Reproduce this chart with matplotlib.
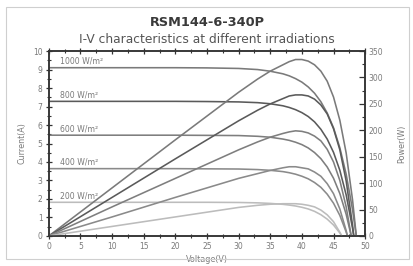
import matplotlib
matplotlib.use("Agg")
import matplotlib.pyplot as plt
from matplotlib.ticker import MultipleLocator
from matplotlib.patches import Rectangle

# Irradiance levels and labels
irradiances = ["1000", "800", "600", "400", "200"]

# Voltage sample points (V) for each curve
v_1000 = [0, 10, 20, 25, 30, 33, 35, 37, 38, 39, 40, 41, 42, 43, 44, 45, 46, 47, 48, 48.6]
v_800 = [0, 10, 20, 25, 30, 33, 35, 37, 38, 39, 40, 41, 42, 43, 44, 45, 46, 47, 48, 48.2]
v_600 = [0, 10, 20, 25, 30, 33, 35, 37, 38, 39, 40, 41, 42, 43, 44, 45, 46, 47, 47.8]
v_400 = [0, 10, 20, 25, 30, 33, 35, 37, 38, 39, 40, 41, 42, 43, 44, 45, 46, 47, 47.2]
v_200 = [0, 10, 20, 25, 30, 33, 35, 37, 38, 39, 40, 41, 42, 43, 44, 45, 46, 46.3]

# Current (A)
i_1000 = [9.10, 9.10, 9.10, 9.09, 9.06, 9.00, 8.91, 8.77, 8.66, 8.51, 8.32, 8.06, 7.72, 7.26, 6.65, 5.85, 4.77, 3.34, 1.43, 0]
i_800 = [7.28, 7.28, 7.28, 7.27, 7.25, 7.21, 7.15, 7.04, 6.95, 6.83, 6.67, 6.46, 6.17, 5.77, 5.24, 4.52, 3.55, 2.22, 0.43, 0]
i_600 = [5.45, 5.45, 5.45, 5.44, 5.43, 5.39, 5.34, 5.24, 5.17, 5.07, 4.94, 4.76, 4.51, 4.18, 3.73, 3.12, 2.29, 1.17, 0]
i_400 = [3.64, 3.64, 3.64, 3.63, 3.62, 3.59, 3.55, 3.48, 3.42, 3.34, 3.23, 3.09, 2.89, 2.63, 2.26, 1.77, 1.11, 0.21, 0]
i_200 = [1.82, 1.82, 1.82, 1.82, 1.81, 1.79, 1.76, 1.71, 1.67, 1.62, 1.55, 1.46, 1.33, 1.15, 0.91, 0.59, 0.16, 0]

# Power (W)
p_1000 = [0, 91, 182, 227, 272, 297, 312, 324, 330, 334, 334, 331, 324, 312, 293, 263, 219, 157, 69, 0]
p_800 = [0, 73, 146, 182, 218, 238, 250, 260, 265, 267, 267, 265, 259, 248, 231, 203, 163, 104, 21, 0]
p_600 = [0, 55, 109, 136, 163, 178, 187, 194, 197, 199, 198, 195, 189, 180, 164, 140, 105, 55, 0]
p_400 = [0, 36, 73, 91, 109, 118, 124, 129, 131, 131, 129, 127, 121, 113, 99, 80, 51, 10, 0]
p_200 = [0, 18, 36, 45, 54, 58, 60, 61, 61, 61, 60, 58, 55, 49, 40, 27, 7, 0]

volts = [v_1000, v_800, v_600, v_400, v_200]
currents = [i_1000, i_800, i_600, i_400, i_200]
powers = [p_1000, p_800, p_600, p_400, p_200]
colors = ["#7a7a7a", "#5a5a5a", "#7e7e7e", "#8a8a8a", "#bcbcbc"]

fig = plt.figure(figsize=(4.14, 2.66), dpi=100)
fig.patches.append(Rectangle((0.014, 0.025), 0.974, 0.948, transform=fig.transFigure,
                             fill=False, edgecolor="#cfcfcf", linewidth=0.8))

ax = fig.add_axes([0.118, 0.113, 0.764, 0.695])
ax2 = ax.twinx()

for v, i, p, c, g in zip(volts, currents, powers, colors, irradiances):
    ax.plot(v, i, color=c, linewidth=1.15)
    ax2.plot(v, p, color=c, linewidth=1.15)
    ax.text(1.7, i[0] + 0.1, f"{g} W/m²", fontsize=5.6, color="#7a7a7a",
            ha="left", va="bottom")

ax.set_xlim(0, 50)
ax.set_ylim(0, 10)
ax2.set_ylim(0, 350)

ax.xaxis.set_major_locator(MultipleLocator(5))
ax.xaxis.set_minor_locator(MultipleLocator(2.5))
ax.yaxis.set_major_locator(MultipleLocator(1))
ax.yaxis.set_minor_locator(MultipleLocator(0.5))
ax2.yaxis.set_major_locator(MultipleLocator(50))
ax2.yaxis.set_minor_locator(MultipleLocator(25))

for a in (ax, ax2):
    for s in a.spines.values():
        s.set_linewidth(1.1)
        s.set_color("#333333")

ax.tick_params(axis="both", which="both", direction="inout", labelsize=5.5,
               labelcolor="#7a7a7a", color="#333333", pad=2.5, top=True)
ax.tick_params(which="major", length=4, width=0.9)
ax.tick_params(which="minor", length=2.5, width=0.8)
ax2.tick_params(axis="y", which="both", direction="in", labelsize=5.5,
                labelcolor="#7a7a7a", color="#333333", pad=2.5)
ax2.tick_params(which="major", length=4, width=0.9)
ax2.tick_params(which="minor", length=2.5, width=0.8)

ax.set_xlabel("Voltage(V)", fontsize=5.8, color="#7a7a7a", labelpad=3)
ax.set_ylabel("Current(A)", fontsize=5.8, color="#7a7a7a", labelpad=5)
ax2.set_ylabel("Power(W)", fontsize=5.8, color="#7a7a7a", labelpad=10)

fig.text(0.5, 0.915, "RSM144-6-340P", ha="center", va="center", fontsize=9.3,
         fontweight="bold", color="#3a3a3a")
fig.text(0.5, 0.853, "I-V characteristics at different irradiations", ha="center",
         va="center", fontsize=8.8, color="#555555")

fig.savefig("out.png", dpi=100)
